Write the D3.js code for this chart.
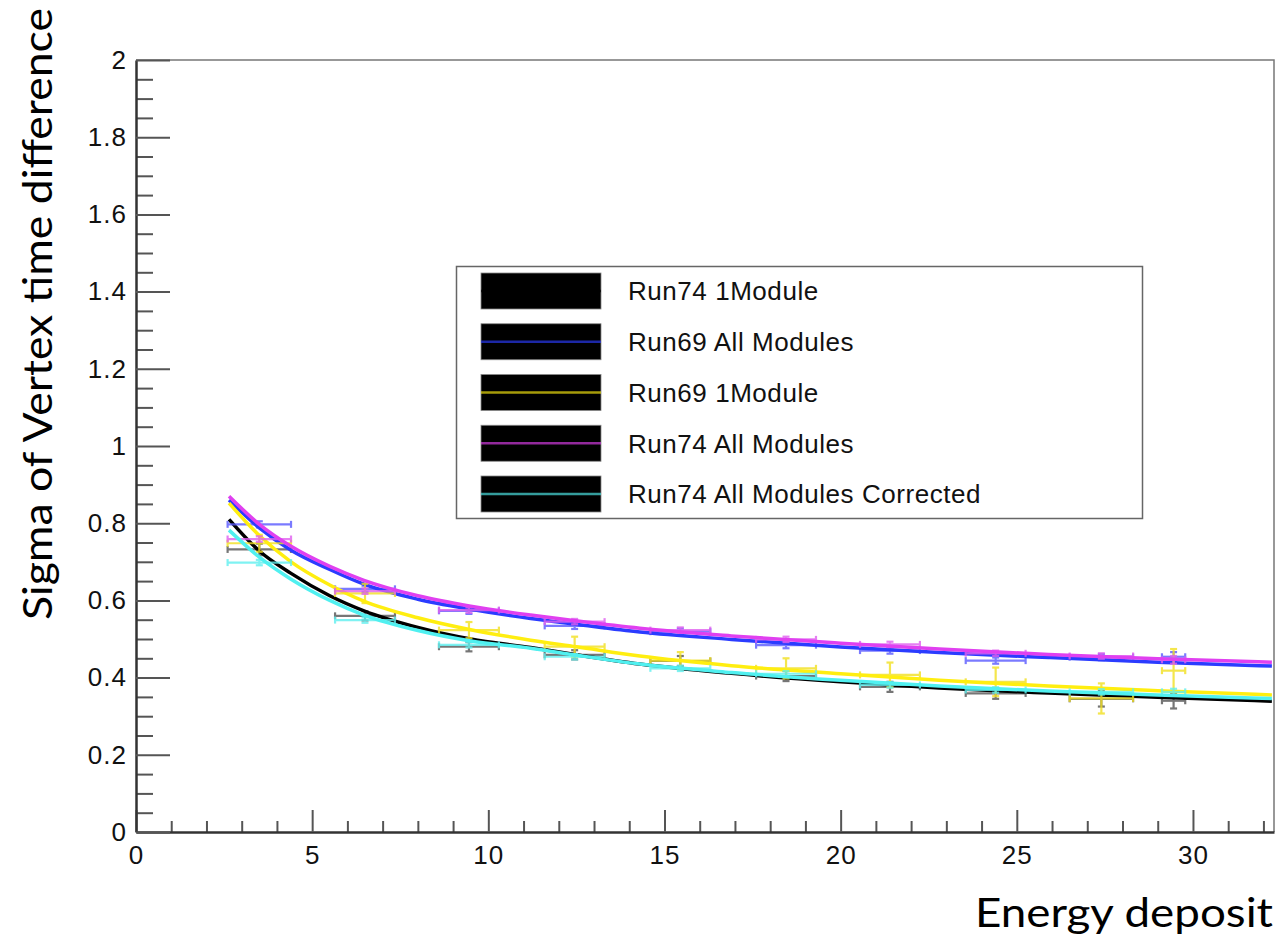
<!DOCTYPE html>
<html>
<head>
<meta charset="utf-8">
<script src="https://cdn.jsdelivr.net/npm/d3@7"></script>
<style>
  html, body { margin: 0; padding: 0; background: #fff; }
  svg { display: block; }
</style>
</head>
<body>
<svg id="chart" width="1278" height="939"></svg>
<script>
// ---- data ----------------------------------------------------------------
const seriesNames = ["Run74 1Module", "Run69 All Modules", "Run69 1Module", "Run74 All Modules", "Run74 All Modules Corrected"];
const seriesColors = ["#000000", "#2b3cff", "#ffee10", "#e040f0", "#50f0f0"];
const barColors = ["#555555", "#5a5aff", "#f2e020", "#e060f0", "#60f0f0"];

// bin centres and half-widths (energy deposit)
const binX = [3.5, 6.5, 9.45, 12.45, 15.45, 18.45, 21.4, 24.4, 27.4, 29.45];
const binXErr = [0.9, 0.85, 0.85, 0.85, 0.85, 0.85, 0.85, 0.85, 0.9, 0.33];

// measured sigma per bin
const run74OneY = [0.732, 0.560, 0.480, 0.459, 0.443, 0.404, 0.376, 0.359, 0.345, 0.340];
const run74OneErr = [0.015, 0.012, 0.012, 0.012, 0.013, 0.013, 0.013, 0.014, 0.020, 0.020];
const run69AllY = [0.797, 0.630, 0.573, 0.534, 0.519, 0.484, 0.470, 0.444, 0.453, 0.454];
const run69AllErr = [0.008, 0.008, 0.008, 0.008, 0.008, 0.008, 0.008, 0.008, 0.008, 0.012];
const run69OneY = [0.748, 0.618, 0.523, 0.480, 0.444, 0.424, 0.407, 0.389, 0.346, 0.418];
const run69OneErr = [0.022, 0.025, 0.021, 0.026, 0.022, 0.026, 0.032, 0.037, 0.039, 0.056];
const run74AllY = [0.759, 0.624, 0.575, 0.545, 0.523, 0.499, 0.486, 0.463, 0.456, 0.446];
const run74AllErr = [0.007, 0.007, 0.007, 0.007, 0.007, 0.007, 0.007, 0.007, 0.007, 0.010];
const run74CorrY = [0.698, 0.549, 0.485, 0.454, 0.424, 0.410, 0.381, 0.368, 0.363, 0.363];
const run74CorrErr = [0.007, 0.007, 0.007, 0.007, 0.007, 0.007, 0.007, 0.007, 0.007, 0.008];

// fitted resolution curves, sampled along energy deposit
const fitX = [2.64, 3.5, 4.4, 5.5, 6.47, 8.0, 9.5, 11.2, 12.5, 14.3, 16.9, 20.0, 22.8, 25.9, 29.0, 32.24];
const run74OneFit = [0.810, 0.728, 0.670, 0.612, 0.573, 0.530, 0.500, 0.478, 0.459, 0.435, 0.411, 0.389, 0.373, 0.360, 0.349, 0.339];
const run69AllFit = [0.860, 0.788, 0.730, 0.680, 0.642, 0.603, 0.577, 0.553, 0.538, 0.518, 0.499, 0.479, 0.465, 0.452, 0.440, 0.430];
const run69OneFit = [0.852, 0.768, 0.700, 0.640, 0.598, 0.555, 0.524, 0.497, 0.480, 0.456, 0.431, 0.410, 0.393, 0.378, 0.366, 0.355];
const run74AllFit = [0.870, 0.797, 0.740, 0.688, 0.652, 0.612, 0.585, 0.562, 0.547, 0.528, 0.508, 0.489, 0.474, 0.460, 0.449, 0.440];
const run74CorrFit = [0.782, 0.712, 0.655, 0.600, 0.562, 0.522, 0.495, 0.476, 0.458, 0.435, 0.413, 0.393, 0.378, 0.365, 0.355, 0.346];

const yMajorTicks = [0, 0.2, 0.4, 0.6, 0.8, 1, 1.2, 1.4, 1.6, 1.8, 2];
const xMajorTicks = [0, 5, 10, 15, 20, 25, 30];
const yTickLabels = ["0", "0.2", "0.4", "0.6", "0.8", "1", "1.2", "1.4", "1.6", "1.8", "2"];
const xTickLabels = ["0", "5", "10", "15", "20", "25", "30"];

const seriesY = [run74OneY, run69AllY, run69OneY, run74AllY, run74CorrY];
const seriesErr = [run74OneErr, run69AllErr, run69OneErr, run74AllErr, run74CorrErr];
const seriesFit = [run74OneFit, run69AllFit, run69OneFit, run74AllFit, run74CorrFit];

(function draw() {
  // ---- layout ------------------------------------------------------------
  const svg = d3.select("#chart");
  const plotL = 136, plotR = 1274, plotT = 60, plotB = 832;
  const x = d3.scaleLinear().domain([0, 32.3]).range([plotL, plotR]);
  const y = d3.scaleLinear().domain([0, 2]).range([plotB, plotT]);
  const tickFont = "'Liberation Sans', Arial, Helvetica, sans-serif";

  // frame (top / right edges)
  svg.append("path")
    .attr("d", `M${plotL},${plotT}H${plotR}V${plotB}`)
    .attr("fill", "none").attr("stroke", "#777").attr("stroke-width", 1.5);

  // minor ticks
  const xMinor = d3.range(0, 33, 1).filter(v => v % 5 !== 0);
  const yMinor = d3.range(0, 41, 1).filter(v => v % 4 !== 0).map(v => v * 0.05);

  svg.append("g").attr("transform", `translate(0,${plotB})`)
    .call(d3.axisBottom(x).tickValues(xMinor).tickSize(-11).tickSizeOuter(0).tickFormat(""))
    .call(g => g.select(".domain").remove())
    .call(g => g.selectAll("line").attr("stroke", "#555").attr("stroke-width", 2));

  svg.append("g").attr("transform", `translate(${plotL},0)`)
    .call(d3.axisLeft(y).tickValues(yMinor).tickSize(-17).tickSizeOuter(0).tickFormat(""))
    .call(g => g.select(".domain").remove())
    .call(g => g.selectAll("line").attr("stroke", "#555").attr("stroke-width", 2));

  // major ticks with labels
  svg.append("g").attr("transform", `translate(0,${plotB})`)
    .call(d3.axisBottom(x).tickValues(xMajorTicks).tickSize(-22).tickSizeOuter(0)
      .tickPadding(14).tickFormat((d, i) => xTickLabels[i]))
    .call(g => g.select(".domain").attr("stroke", "#333").attr("stroke-width", 2.5))
    .call(g => g.selectAll("line").attr("stroke", "#555").attr("stroke-width", 2))
    .call(g => g.selectAll("text").attr("font-family", tickFont).attr("font-size", 26)
      .attr("letter-spacing", 1).attr("fill", "#111"));

  svg.append("g").attr("transform", `translate(${plotL},0)`)
    .call(d3.axisLeft(y).tickValues(yMajorTicks).tickSize(-34).tickSizeOuter(0)
      .tickPadding(9).tickFormat((d, i) => yTickLabels[i]))
    .call(g => g.select(".domain").attr("stroke", "#333").attr("stroke-width", 2.5))
    .call(g => g.selectAll("line").attr("stroke", "#555").attr("stroke-width", 2))
    .call(g => g.selectAll("text").attr("font-family", tickFont).attr("font-size", 26)
      .attr("letter-spacing", 1).attr("fill", "#111"));

  // ---- series: error bars then fitted curve -------------------------------
  const line = d3.line().x(d => x(d[0])).y(d => y(d[1])).curve(d3.curveMonotoneX);
  const cap = 3.5;

  seriesNames.forEach((name, s) => {
    const g = svg.append("g").attr("class", "series");
    const pts = binX.map((bx, i) => ({ x: bx, xe: binXErr[i], y: seriesY[s][i], ye: seriesErr[s][i] }));
    const bars = g.append("g").attr("stroke", barColors[s]).attr("stroke-width", 2.2).attr("opacity", 0.8);
    pts.forEach(p => {
      const cx = x(p.x), cy = y(p.y);
      const x0 = x(p.x - p.xe), x1 = x(p.x + p.xe);
      const y0 = y(p.y - p.ye), y1 = y(p.y + p.ye);
      bars.append("line").attr("x1", x0).attr("x2", x1).attr("y1", cy).attr("y2", cy);
      bars.append("line").attr("x1", x0).attr("x2", x0).attr("y1", cy - cap).attr("y2", cy + cap);
      bars.append("line").attr("x1", x1).attr("x2", x1).attr("y1", cy - cap).attr("y2", cy + cap);
      bars.append("line").attr("x1", cx).attr("x2", cx).attr("y1", y0).attr("y2", y1);
      bars.append("line").attr("x1", cx - cap).attr("x2", cx + cap).attr("y1", y0).attr("y2", y0);
      bars.append("line").attr("x1", cx - cap).attr("x2", cx + cap).attr("y1", y1).attr("y2", y1);
    });
    g.append("path")
      .datum(fitX.map((fx, i) => [fx, seriesFit[s][i]]))
      .attr("d", line)
      .attr("fill", "none")
      .attr("stroke", seriesColors[s])
      .attr("stroke-width", 3.5)
      .attr("stroke-linejoin", "round");
  });

  // ---- legend ------------------------------------------------------------
  const legend = svg.append("g");
  legend.append("rect")
    .attr("x", 456.5).attr("y", 266.5).attr("width", 686).attr("height", 252)
    .attr("fill", "#fff").attr("stroke", "#666").attr("stroke-width", 1.5);
  const rowY = d3.scalePoint().domain(seriesNames).range([291, 494]);
  seriesNames.forEach((name, s) => {
    const cy = rowY(name);
    legend.append("rect").attr("x", 481).attr("y", cy - 18).attr("width", 120).attr("height", 36)
      .attr("fill", "#000").attr("stroke", "#888").attr("stroke-width", 0.8);
    legend.append("line").attr("x1", 481).attr("x2", 601).attr("y1", cy).attr("y2", cy)
      .attr("stroke", seriesColors[s]).attr("stroke-width", 2.5).attr("opacity", 0.65);
    legend.append("text").attr("x", 628).attr("y", cy).attr("dy", "0.36em")
      .attr("font-family", tickFont).attr("font-size", 26).attr("letter-spacing", 0.55)
      .attr("fill", "#111")
      .text(name);
  });

  // ---- axis titles -------------------------------------------------------
  const titleFont = "Lato, 'Open Sans', sans-serif";
  svg.append("text")
    .attr("transform", "translate(52,314) rotate(-90)")
    .attr("text-anchor", "middle")
    .attr("font-family", titleFont).attr("font-size", 40).attr("fill", "#000")
    .attr("textLength", 612).attr("lengthAdjust", "spacingAndGlyphs")
    .text("Sigma of Vertex time difference");
  svg.append("text")
    .attr("x", 1273).attr("y", 927)
    .attr("text-anchor", "end")
    .attr("font-family", titleFont).attr("font-size", 40).attr("fill", "#000")
    .attr("textLength", 298).attr("lengthAdjust", "spacingAndGlyphs")
    .text("Energy deposit");
})();
</script>
</body>
</html>
